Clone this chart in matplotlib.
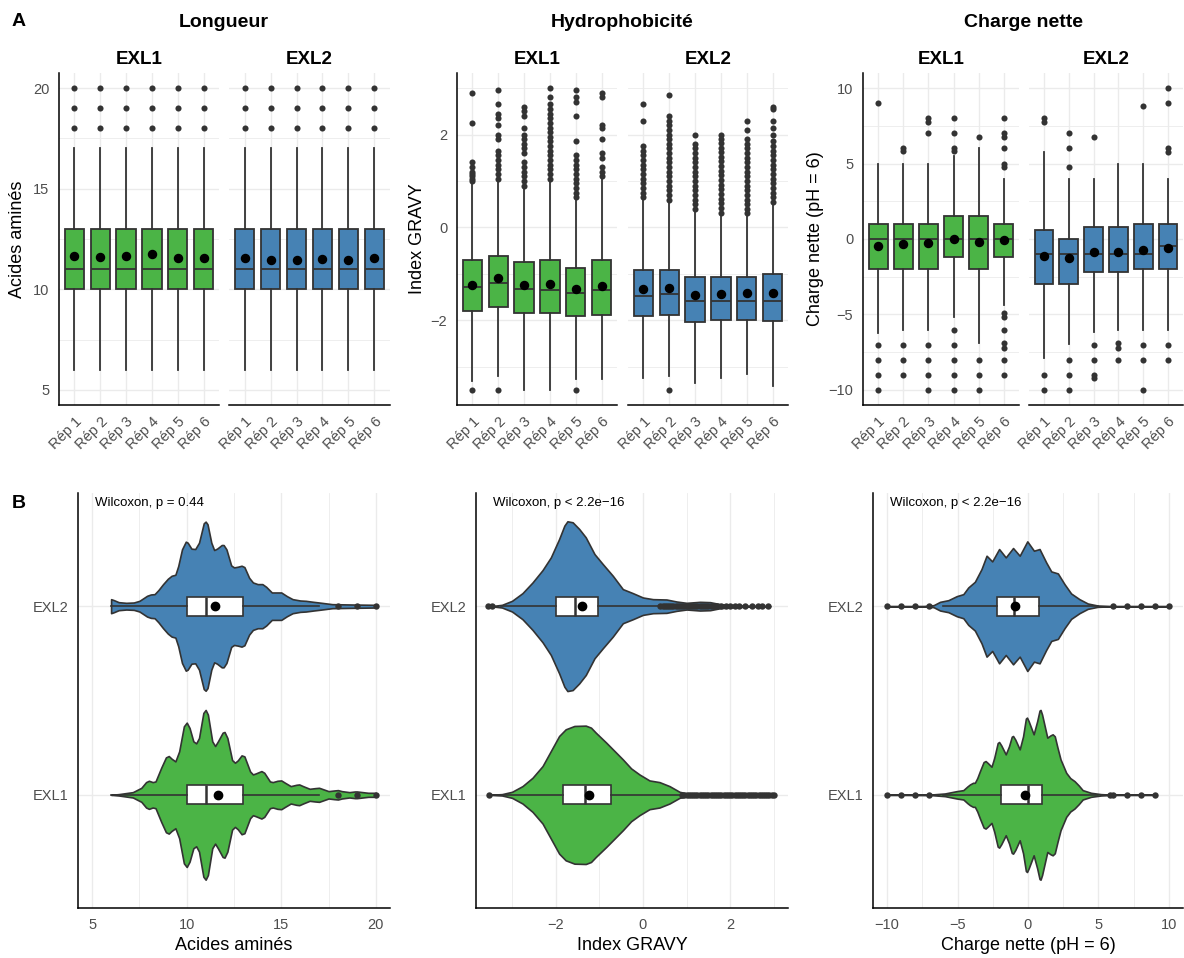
import matplotlib.pyplot as plt
from matplotlib.ticker import MultipleLocator

plt.rcParams['font.family'] = ['Liberation Sans', 'DejaVu Sans']

reps = ['Rép 1', 'Rép 2', 'Rép 3', 'Rép 4', 'Rép 5', 'Rép 6']
groups = ['EXL1', 'EXL2']
colors = {'EXL1': '#4BB446', 'EXL2': '#4682B4'}

# ---- panel A : boxplots per replicate ----
len_q1 = {'EXL1': [10, 10, 10, 10, 10, 10], 'EXL2': [10, 10, 10, 10, 10, 10]}
len_med = {'EXL1': [11, 11, 11, 11, 11, 11], 'EXL2': [11, 11, 11, 11, 11, 11]}
len_q3 = {'EXL1': [13, 13, 13, 13, 13, 13], 'EXL2': [13, 13, 13, 13, 13, 13]}
len_lo = {'EXL1': [6, 6, 6, 6, 6, 6], 'EXL2': [6, 6, 6, 6, 6, 6]}
len_hi = {'EXL1': [17, 17, 17, 17, 17, 17], 'EXL2': [17, 17, 17, 17, 17, 17]}
len_mean = {'EXL1': [11.65, 11.6, 11.65, 11.75, 11.58, 11.56],
            'EXL2': [11.58, 11.46, 11.46, 11.51, 11.46, 11.58]}
len_fl = {'EXL1': [[18, 19, 20]] * 6, 'EXL2': [[18, 19, 20]] * 6}

gravy_q1 = {'EXL1': [-1.81, -1.71, -1.84, -1.85, -1.91, -1.89],
            'EXL2': [-1.91, -1.89, -2.04, -1.99, -1.99, -2.01]}
gravy_med = {'EXL1': [-1.28, -1.20, -1.32, -1.34, -1.42, -1.34],
             'EXL2': [-1.48, -1.43, -1.59, -1.59, -1.59, -1.59]}
gravy_q3 = {'EXL1': [-0.70, -0.61, -0.74, -0.70, -0.87, -0.70],
            'EXL2': [-0.92, -0.92, -1.06, -1.06, -1.06, -1.01]}
gravy_lo = {'EXL1': [-3.3, -3.2, -3.5, -3.5, -3.27, -3.27],
            'EXL2': [-3.24, -3.21, -3.35, -3.24, -3.16, -3.41]}
gravy_hi = {'EXL1': [0.95, 1.0, 0.85, 1.0, 0.6, 1.05],
            'EXL2': [0.6, 0.55, 0.35, 0.28, 0.28, 0.5]}
gravy_mean = {'EXL1': [-1.23, -1.10, -1.23, -1.21, -1.33, -1.26],
              'EXL2': [-1.33, -1.30, -1.45, -1.43, -1.42, -1.41]}
gravy_fl = {
    'EXL1': [
        [1.0, 1.05, 1.1, 1.15, 1.2, 1.3, 1.4, 2.25, 2.9, -3.5],
        [1.05, 1.15, 1.25, 1.35, 1.45, 1.55, 1.65, 1.9, 2.0, 2.2, 2.35, 2.45, 2.65, 2.95, -3.5],
        [0.9, 1.0, 1.1, 1.2, 1.3, 1.4, 1.6, 1.7, 1.8, 1.9, 2.0, 2.15, 2.4, 2.5, 2.6],
        [1.05, 1.15, 1.25, 1.35, 1.45, 1.55, 1.65, 1.75, 1.85, 1.95, 2.05, 2.15, 2.25,
         2.35, 2.45, 2.55, 2.65, 2.8, 3.0],
        [0.65, 0.75, 0.85, 0.95, 1.05, 1.15, 1.25, 1.35, 1.45, 1.55, 1.85, 2.4, 2.7, 2.8,
         2.95, -3.5],
        [1.1, 1.2, 1.3, 1.5, 1.6, 1.9, 2.15, 2.2, 2.8, 2.9],
    ],
    'EXL2': [
        [0.65, 0.75, 0.85, 0.95, 1.05, 1.15, 1.25, 1.35, 1.45, 1.55, 1.65, 1.75, 2.3, 2.65],
        [0.6, 0.7, 0.8, 0.9, 1.0, 1.1, 1.2, 1.3, 1.4, 1.5, 1.6, 1.7, 1.8, 1.9, 2.0, 2.1,
         2.2, 2.3, 2.4, 2.85, -3.5],
        [0.4, 0.5, 0.6, 0.7, 0.8, 0.9, 1.0, 1.1, 1.2, 1.3, 1.4, 1.5, 1.6, 1.7, 1.8, 2.0],
        [0.32, 0.42, 0.52, 0.62, 0.72, 0.82, 0.92, 1.02, 1.12, 1.22, 1.32, 1.42, 1.52,
         1.62, 1.72, 1.82, 1.9, 2.0],
        [0.3, 0.4, 0.5, 0.6, 0.7, 0.8, 0.9, 1.0, 1.1, 1.2, 1.3, 1.4, 1.5, 1.6, 1.7, 1.8,
         1.9, 2.1, 2.3],
        [0.55, 0.65, 0.75, 0.85, 0.95, 1.05, 1.15, 1.25, 1.35, 1.45, 1.55, 1.65, 1.75,
         1.85, 2.0, 2.15, 2.3, 2.55, 2.6],
    ],
}

charge_q1 = {'EXL1': [-2, -2, -2, -1.2, -2, -1.2],
             'EXL2': [-2.96, -2.96, -2.2, -2.2, -2.0, -2.0]}
charge_med = {'EXL1': [0, 0, 0, 0, 0, 0],
              'EXL2': [-0.97, -0.97, -0.97, -0.97, -0.97, -0.49]}
charge_q3 = {'EXL1': [1, 1, 1, 1.5, 1.5, 1],
             'EXL2': [0.57, 0.02, 0.77, 0.77, 1.0, 1.0]}
charge_lo = {'EXL1': [-6.2, -6, -6, -5.2, -6.9, -4.4],
             'EXL2': [-7.9, -6.93, -6.16, -6, -6, -6]}
charge_hi = {'EXL1': [5, 5, 5, 5.5, 6, 4],
             'EXL2': [5.74, 4, 4, 5, 5, 4]}
charge_mean = {'EXL1': [-0.49, -0.35, -0.26, 0.0, -0.18, -0.07],
               'EXL2': [-1.1, -1.26, -0.84, -0.86, -0.75, -0.62]}
charge_fl = {
    'EXL1': [
        [9, -7, -8, -9, -10],
        [5.8, 6, -7, -8, -9],
        [7, 7.75, 8, -7, -8, -9, -10],
        [5.8, 6, 7, 8, -6, -7, -8, -9, -10],
        [6.75, -8, -9, -10],
        [4.8, 5, 6, 6.75, 7, 8, -4.9, -5.2, -6, -6.9, -7.2, -8, -9],
    ],
    'EXL2': [
        [7.75, 8, -9, -10],
        [4.8, 6, 7, -8, -9, -10],
        [6.75, -7, -8, -9, -9.2],
        [-6.9, -7.2, -8],
        [8.8, -7, -8, -10],
        [5.75, 6, 9, 10, -7, -8],
    ],
}

# ---- panel B : violins, density outlines ----
len_v = {'EXL1': [6.0, 6.4, 7.15, 7.6, 7.85, 8.0, 8.2, 8.35, 8.65, 8.9, 9.05, 9.2, 9.4, 9.6,
                  9.85, 10.0, 10.15, 10.35, 10.5, 10.65, 10.88, 11.0, 11.12, 11.35, 11.5,
                  11.65, 11.9, 12.0, 12.15, 12.4, 12.55, 12.7, 12.9, 13.05, 13.35, 13.5,
                  13.65, 13.95, 14.1, 14.4, 14.55, 14.8, 15.0, 15.2, 15.5, 15.8, 15.95,
                  16.15, 16.5, 16.8, 17.0, 17.2, 17.5, 17.8, 18.0, 18.2, 18.6, 18.9, 19.0,
                  19.3, 19.6, 20.0],
         'EXL2': [6.0, 6.15, 6.4, 6.8, 7.2, 7.5, 7.9, 8.1, 8.3, 8.5, 8.75, 9.0, 9.2, 9.4,
                  9.55, 9.75, 9.95, 10.05, 10.25, 10.45, 10.65, 10.9, 11.0, 11.1, 11.3,
                  11.45, 11.6, 11.85, 11.95, 12.1, 12.35, 12.5, 12.7, 12.9, 13.05, 13.3,
                  13.5, 13.75, 14.0, 14.2, 14.5, 14.75, 15.0, 15.3, 15.6, 16.0, 16.3, 16.7,
                  17.0, 17.7, 18.75, 20.0]}
len_d = {'EXL1': [0, 2, 8, 21, 38, 42, 38, 40, 81, 112, 116, 108, 100, 130, 205, 216, 200,
                  160, 154, 170, 245, 254, 240, 160, 146, 160, 186, 188, 170, 104, 96, 103,
                  118, 115, 70, 61, 64, 71, 66, 40, 38, 42, 43, 36, 26, 30, 31, 26, 18, 20,
                  21, 17, 11, 13, 14, 11, 8, 10, 10, 8, 6, 6],
         'EXL2': [21, 18, 12, 10, 11, 16, 31, 35, 36, 48, 66, 82, 91, 94, 120, 170, 193,
                  190, 172, 171, 190, 248, 253, 245, 190, 168, 172, 183, 183, 170, 122, 116,
                  118, 121, 117, 85, 71, 66, 66, 58, 41, 41, 41, 30, 21, 17, 16, 13, 11, 6,
                  5, 4]}

gravy_v = {'EXL1': [-3.53, -3.23, -3.0, -2.76, -2.53, -2.3, -2.11, -1.92, -1.77, -1.57,
                    -1.31, -1.19, -1.08, -0.84, -0.65, -0.46, -0.27, -0.08, 0.15, 0.38,
                    0.61, 0.84, 1.08, 1.61, 3.03],
           'EXL2': [-3.49, -3.23, -3.0, -2.76, -2.53, -2.3, -2.11, -1.92, -1.8, -1.73,
                    -1.61, -1.46, -1.31, -1.11, -0.92, -0.69, -0.46, -0.23, 0.0, 0.23,
                    0.54, 0.77, 1.0, 1.31, 1.54, 1.77, 2.07, 2.53, 2.92]}
gravy_d = {'EXL1': [0, 2, 9, 26, 51, 86, 131, 176, 196, 206, 207, 201, 186, 156, 131, 106,
                    79, 61, 43, 38, 26, 9, 2, 0, 0],
           'EXL2': [0, 4, 16, 39, 71, 108, 146, 201, 241, 254, 251, 231, 206, 156, 126, 91,
                    51, 39, 26, 21, 20, 14, 10, 13, 12, 6, 3, 1, 0]}

charge_v = {'EXL1': [-10, -6.83, -5.9, -5.06, -4.59, -4.3, -4.12, -3.9, -3.77, -3.6, -3.41,
                     -3.15, -3.01, -2.85, -2.59, -2.4, -2.15, -2.05, -1.9, -1.58, -1.35,
                     -1.15, -1.06, -0.9, -0.59, -0.35, -0.15, -0.07, 0.05, 0.4, 0.65, 0.82,
                     0.89, 1.0, 1.37, 1.6, 1.75, 1.9, 2.1, 2.31, 2.71, 3.0, 3.3, 3.6, 3.88,
                     4.47, 5.18, 6.12, 9.06],
            'EXL2': [-10, -7.53, -6.7, -6.24, -5.65, -5.06, -4.59, -4.24, -3.77, -3.3,
                     -2.94, -2.54, -2.05, -1.58, -1.06, -0.59, -0.05, 0.42, 0.82, 1.29,
                     1.65, 2.12, 2.59, 3.06, 3.65, 4.24, 4.94, 6.12, 10.0]}
charge_d = {'EXL1': [0, 1, 4, 11, 14, 25, 31, 36, 36, 50, 71, 98, 101, 95, 84, 110, 155,
                     158, 148, 121, 145, 174, 176, 165, 136, 175, 228, 231, 220, 181, 220,
                     252, 254, 240, 171, 178, 181, 175, 140, 106, 66, 50, 41, 28, 14, 6, 2,
                     0, 0],
            'EXL2': [0, 0, 3, 13, 18, 30, 36, 56, 73, 111, 151, 134, 171, 146, 174, 151,
                     194, 166, 171, 131, 104, 98, 66, 38, 21, 8, 2, 0, 0]}

# pooled boxplots drawn inside the violins
len_box = {'EXL1': dict(q1=10, med=11, q3=13, whislo=6, whishi=17, mean=11.65,
                        fliers=[18, 19, 20]),
           'EXL2': dict(q1=10, med=11, q3=13, whislo=6, whishi=17, mean=11.5,
                        fliers=[18, 19, 20])}
gravy_box = {'EXL1': dict(q1=-1.83, med=-1.33, q3=-0.74, whislo=-3.4, whishi=0.88,
                          mean=-1.24,
                          fliers=[-3.53, 0.9, 0.95, 1.0, 1.05, 1.1, 1.15, 1.2, 1.25, 1.3,
                                  1.35, 1.4, 1.45, 1.5, 1.55, 1.6, 1.65, 1.7, 1.75, 1.8,
                                  1.85, 1.9, 1.95, 2.0, 2.05, 2.1, 2.15, 2.2, 2.25, 2.3,
                                  2.35, 2.4, 2.45, 2.5, 2.55, 2.6, 2.65, 2.7, 2.75, 2.8,
                                  2.85, 2.9, 2.95, 3.0]),
             'EXL2': dict(q1=-1.99, med=-1.56, q3=-1.04, whislo=-3.25, whishi=0.36,
                          mean=-1.40,
                          fliers=[-3.55, -3.45, 0.4, 0.45, 0.5, 0.55, 0.6, 0.65, 0.7, 0.75,
                                  0.8, 0.85, 0.9, 0.95, 1.0, 1.05, 1.1, 1.15, 1.2, 1.25,
                                  1.3, 1.35, 1.4, 1.45, 1.5, 1.55, 1.6, 1.65, 1.7, 1.8,
                                  1.9, 2.0, 2.1, 2.2, 2.35, 2.5, 2.63, 2.73, 2.87])}
charge_box = {'EXL1': dict(q1=-1.95, med=0, q3=1.0, whislo=-6, whishi=5, mean=-0.24,
                           fliers=[-10, -9, -8, -7, 5.8, 6, 7, 8, 9]),
              'EXL2': dict(q1=-2.2, med=-1.0, q3=0.78, whislo=-6, whishi=5, mean=-0.9,
                           fliers=[-10, -9, -8, -7, 6, 7, 8, 9, 10])}

pvals = ['Wilcoxon, p = 0.44', 'Wilcoxon, p < 2.2e\u221216', 'Wilcoxon, p < 2.2e\u221216']

# ---------------------------------------------------------------------------
W, H = 1184, 958
fig = plt.figure(figsize=(W / 100, H / 100), dpi=100)
EDGE = '#333333'
GRID = '#EBEBEB'
TICKC = '#4D4D4D'


def add_ax(x0, x1, y0, y1):
    return fig.add_axes([x0 / W, 1 - y1 / H, (x1 - x0) / W, (y1 - y0) / H])


def style(ax, left=True):
    for s in ['top', 'right']:
        ax.spines[s].set_visible(False)
    ax.spines['left'].set_visible(left)
    for s in ['left', 'bottom']:
        ax.spines[s].set_color('black')
        ax.spines[s].set_linewidth(1.1)
    ax.tick_params(length=0, labelsize=10.5, labelcolor=TICKC)
    ax.set_axisbelow(True)
    ax.set_facecolor('white')


def box_facet(ax, q1, med, q3, lo, hi, mean, fl, color):
    stats = []
    for i in range(len(reps)):
        stats.append(dict(q1=q1[i], med=med[i], q3=q3[i], whislo=lo[i], whishi=hi[i],
                          mean=mean[i], fliers=fl[i]))
    ax.bxp(stats, positions=range(1, len(reps) + 1), widths=0.75, patch_artist=True,
           showmeans=True, showcaps=False,
           boxprops=dict(facecolor=color, edgecolor=EDGE, linewidth=1.3),
           medianprops=dict(color=EDGE, linewidth=1.3),
           whiskerprops=dict(color=EDGE, linewidth=1.3),
           flierprops=dict(marker='o', markerfacecolor=EDGE, markeredgecolor='none',
                           markersize=4.4),
           meanprops=dict(marker='o', markerfacecolor='black', markeredgecolor='black',
                          markersize=5.8))


top_panels = [
    ('Longueur', 'Acides aminés', (len_q1, len_med, len_q3, len_lo, len_hi, len_mean, len_fl),
     (4.25, 20.75), [5, 10, 15, 20], 2.5, [(59, 219), (229, 390)], 18, 224),
    ('Hydrophobicité', 'Index GRAVY',
     (gravy_q1, gravy_med, gravy_q3, gravy_lo, gravy_hi, gravy_mean, gravy_fl),
     (-3.825, 3.325), [-2, 0, 2], 1, [(457, 617), (628, 788)], 417, 622),
    ('Charge nette', 'Charge nette (pH = 6)',
     (charge_q1, charge_med, charge_q3, charge_lo, charge_hi, charge_mean, charge_fl),
     (-11, 11), [-10, -5, 0, 5, 10], 2.5, [(863, 1019), (1029, 1183)], 815, 1023),
]

for title, ylab, st, ylim, yt, minor, facets, ylab_x, title_x in top_panels:
    for k, g in enumerate(groups):
        x0, x1 = facets[k]
        ax = add_ax(x0, x1, 73, 405)
        style(ax, left=(k == 0))
        box_facet(ax, *[s[g] for s in st], colors[g])
        ax.set_xlim(0.4, 6.6)
        ax.set_ylim(*ylim)
        ax.set_yticks(yt)
        ax.set_yticklabels([str(t).replace('-', '\u2212') for t in yt])
        ax.yaxis.set_minor_locator(MultipleLocator(minor))
        ax.set_xticks(range(1, 7))
        ax.set_xticklabels(reps, rotation=45, ha='right', va='top', rotation_mode='anchor')
        ax.tick_params(axis='x', pad=7)
        ax.tick_params(axis='y', pad=7)
        ax.tick_params(which='minor', length=0)
        ax.grid(which='major', color=GRID, linewidth=1.0)
        ax.grid(which='minor', axis='y', color=GRID, linewidth=0.6)
        if k > 0:
            ax.tick_params(labelleft=False)
        fig.text((x0 + x1) / 2 / W, 1 - 64 / H, g, ha='center', va='baseline',
                 fontsize=13.5, fontweight='bold')
    fig.text(title_x / W, 1 - 27 / H, title, ha='center', va='baseline', fontsize=14,
             fontweight='bold')
    fig.text(ylab_x / W, 1 - 239 / H, ylab, ha='center', va='center', rotation=90,
             fontsize=13)

bottom_panels = [
    ('Acides aminés', len_v, len_d, len_box, (4.25, 20.75), [5, 10, 15, 20], 2.5,
     (78, 390), 234),
    ('Index GRAVY', gravy_v, gravy_d, gravy_box, (-3.825, 3.325), [-2, 0, 2], 1,
     (476, 788), 632),
    ('Charge nette (pH = 6)', charge_v, charge_d, charge_box, (-11, 11),
     [-10, -5, 0, 5, 10], 2.5, (873, 1183), 1028),
]

for j, (xlab, vv, dd, bx, xlim, xt, minor, (x0, x1), xlab_x) in enumerate(bottom_panels):
    ax = add_ax(x0, x1, 493, 908)
    style(ax)
    dmax = max(max(dd[g]) for g in groups)
    for pos, g in enumerate(groups, start=1):
        half = [0.45 * d / dmax for d in dd[g]]
        ax.fill_between(vv[g], [pos - h for h in half], [pos + h for h in half],
                        facecolor=colors[g], edgecolor=EDGE, linewidth=1.2, zorder=2)
    ax.bxp([bx[g] for g in groups], positions=[1, 2], widths=0.1, orientation='horizontal',
           patch_artist=True, showmeans=True, showcaps=False, zorder=3,
           boxprops=dict(facecolor='white', edgecolor=EDGE, linewidth=1.2),
           medianprops=dict(color=EDGE, linewidth=1.8),
           whiskerprops=dict(color=EDGE, linewidth=1.2),
           flierprops=dict(marker='o', markerfacecolor=EDGE, markeredgecolor='none',
                           markersize=4.6),
           meanprops=dict(marker='o', markerfacecolor='black', markeredgecolor='black',
                          markersize=6))
    ax.set_xlim(*xlim)
    ax.set_ylim(0.4, 2.6)
    ax.set_xticks(xt)
    ax.set_xticklabels([str(t).replace('-', '\u2212') for t in xt])
    ax.xaxis.set_minor_locator(MultipleLocator(minor))
    ax.set_yticks([1, 2])
    ax.set_yticklabels(groups)
    ax.tick_params(axis='x', pad=7)
    ax.tick_params(axis='y', pad=7)
    ax.tick_params(which='minor', length=0)
    ax.grid(which='major', color=GRID, linewidth=1.0)
    ax.grid(which='minor', axis='x', color=GRID, linewidth=0.6)
    ax.text(0.055, 0.975, pvals[j], transform=ax.transAxes, ha='left', va='center',
            fontsize=9.5)
    fig.text(xlab_x / W, 1 - 945 / H, xlab, ha='center', va='center', fontsize=13)

fig.text(19 / W, 1 - 22 / H, 'A', ha='center', va='center', fontsize=14, fontweight='bold')
fig.text(19 / W, 1 - 503 / H, 'B', ha='center', va='center', fontsize=14, fontweight='bold')

fig.savefig('out.png', dpi=100, facecolor='white')
